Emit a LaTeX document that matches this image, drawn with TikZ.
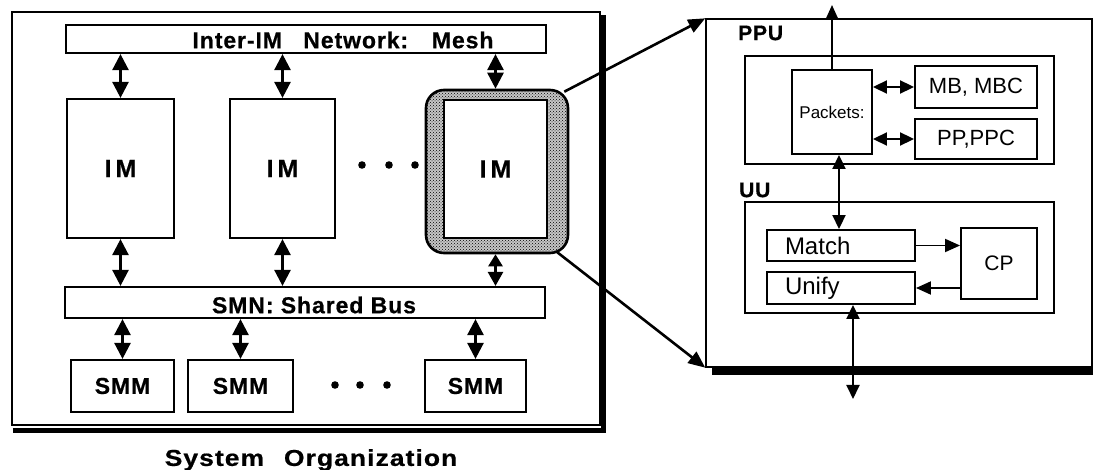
\documentclass[tikz,border=0pt]{standalone}
\usepackage{fontspec}
\setmainfont{Liberation Sans}
\newfontfamily\hb[LetterSpace=4,FakeBold=0.6]{Liberation Sans}
\usetikzlibrary{arrows.meta,patterns,calc}
\begin{document}
\begin{tikzpicture}[x=1pt,y=-1pt,
  lbl/.style={inner sep=0pt,font=\hb\bfseries\fontsize{23}{26}\selectfont},
  lbox/.style={draw,line width=2.2pt,fill=white,inner sep=0pt,lbl},
  imbox/.style={lbox,font=\hb\bfseries\fontsize{25}{28}\selectfont},
  rbox/.style={draw,line width=1.9pt,fill=white,inner sep=0pt,font=\fontsize{22}{26}\selectfont},
  dar/.style={line width=2.6pt,{Triangle[width=16pt,length=16pt]}-{Triangle[width=16pt,length=16pt]}},
  sdar/.style={line width=2.6pt,{Triangle[width=14pt,length=12pt]}-{Triangle[width=15pt,length=14pt]}},
  rdar/.style={line width=1.9pt,{Triangle[width=13pt,length=14pt]}-{Triangle[width=13pt,length=14pt]}},
  rar/.style={line width=1.9pt,-{Triangle[width=13pt,length=15pt]}},
  zar/.style={line width=2.6pt,-{Triangle[width=14pt,length=17pt]}},
  hdr/.style={inner sep=0pt,anchor=west,font=\hb\bfseries\fontsize{21}{22}\selectfont}
]
\useasboundingbox (0,0) rectangle (1093,470);
% left frame
\node[draw,line width=1.6pt,minimum width=588pt,minimum height=413pt,inner sep=0pt] (frame) at (306,218.5) {};
\draw[line width=5pt] ($(frame.north east)+(3,4)$) -- ($(frame.south east)+(3,5)$) -- ($(frame.south west)+(2,5)$);
% bars
\node[lbox,minimum width=480pt,minimum height=28pt] (mesh) at (306,39) {};
\node[lbl] (meshT) at (343,40) {Inter-IM\hspace{14pt} Network:\hspace{14pt} Mesh};
\node[lbox,minimum width=480pt,minimum height=31pt] (smn) at (305,302.5) {};
\node[lbl] (smnT) at (314,305) {SMN: Shared Bus};
% IMs
\node[draw,line width=2.6pt,rounded corners=18pt,preaction={fill=gray!45},pattern=crosshatch dots,minimum width=142pt,minimum height=163pt,inner sep=0pt] (sh) at (497,171.5) {};
\node[imbox,minimum width=107pt,minimum height=139pt] (im1) at (120.5,168.5) {\raisebox{-3pt}{I\kern4pt M}};
\node[imbox,minimum width=105pt,minimum height=139pt] (im2) at (282.5,168.5) {\raisebox{-3pt}{I\kern4pt M}};
\node[imbox,minimum width=103pt,minimum height=138pt] (im3) at (495.5,169) {\raisebox{-3pt}{I\kern4pt M}};
\foreach \x in {362,389,415} \fill (\x,165) circle (3.8pt);
% SMMs
\node[lbox,minimum width=103pt,minimum height=52pt] (smm1) at (122.5,386) {SMM};
\node[lbox,minimum width=105pt,minimum height=52pt] (smm2) at (240.5,386) {SMM};
\node[lbox,minimum width=101pt,minimum height=52pt] (smm3) at (475.5,386) {SMM};
\foreach \x in {335,360,387} \fill (\x,385) circle (3.8pt);
% left arrows
\draw[dar] (im1.north |- mesh.south) -- (im1.north);
\draw[dar] (im2.north |- mesh.south) -- (im2.north);
\draw[dar] (im3.north |- mesh.south) -- (im3.north |- sh.north);
\draw[dar] (im1.south) -- (im1.south |- smn.north);
\draw[dar] (im2.south) -- (im2.south |- smn.north);
\draw[sdar] (im3.south |- sh.south) -- (im3.south |- smn.north);
\draw[dar] (smm1.north |- smn.south) -- (smm1.north);
\draw[dar] (smm2.north |- smn.south) -- (smm2.north);
\draw[dar] (smm3.north |- smn.south) -- (smm3.north);
\node[lbl] (cap) at (311,460) {\scalebox{1.15}[1]{System\hspace{10pt} Organization}};
% right panel
\node[draw,line width=1.4pt,minimum width=386pt,minimum height=348pt,inner sep=0pt] (rp) at (899,193) {};
\draw[line width=7pt] ($(rp.south west)+(7,4)$) -- ($(rp.south east)+(2,4)$);
\node[hdr] (ppuL) at (738,33) {PPU};
\node[rbox,minimum width=309pt,minimum height=108pt] (ppu) at (899.5,110) {};
\node[rbox,minimum width=80pt,minimum height=84pt,font=\fontsize{17}{19}\selectfont] (pk) at (832,112) {Packets:};
\node[rbox,minimum width=122pt,minimum height=42pt] (mb) at (976,87) {MB, MBC};
\node[rbox,minimum width=122pt,minimum height=40pt] (pp) at (976,139) {PP,PPC};
\node[hdr] (uuL) at (739,190) {UU};
\node[rbox,minimum width=309pt,minimum height=111pt] (uu) at (899.5,257.5) {};
\node[rbox,minimum width=148pt,minimum height=31pt,text width=112pt,inner xsep=18pt,align=left,font=\fontsize{24}{26}\selectfont] (m) at (841,245.5) {Match};
\node[rbox,minimum width=148pt,minimum height=32pt,text width=112pt,inner xsep=18pt,align=left,font=\fontsize{24}{26}\selectfont] (u) at (841,288) {Unify};
\node[rbox,minimum width=76pt,minimum height=71pt,font=\fontsize{21}{24}\selectfont] (cp) at (999,263.5) {CP};
\coordinate (top) at (832,5);
\coordinate (bot) at (853,399);
\draw[rar] (pk.north) -- (top);
\draw[rdar] ([xshift=7pt]pk.south) -- ([xshift=7pt]pk.south |- m.north);
\draw[rdar] (mb.west -| pk.east) -- (mb.west);
\draw[rdar] (pp.west -| pk.east) -- (pp.west);
\draw[rar] (m.east) -- (m.east -| cp.west);
\draw[rar] (u.east -| cp.west) -- (u.east);
\draw[rdar] (u.south -| bot) -- (bot);
% zoom lines
\draw[zar] ($(sh.north east)+(-5,3)$) -- (rp.north west);
\draw[zar] ($(sh.south east)+(-12,-2)$) -- (rp.south west);
\end{tikzpicture}
\end{document}
